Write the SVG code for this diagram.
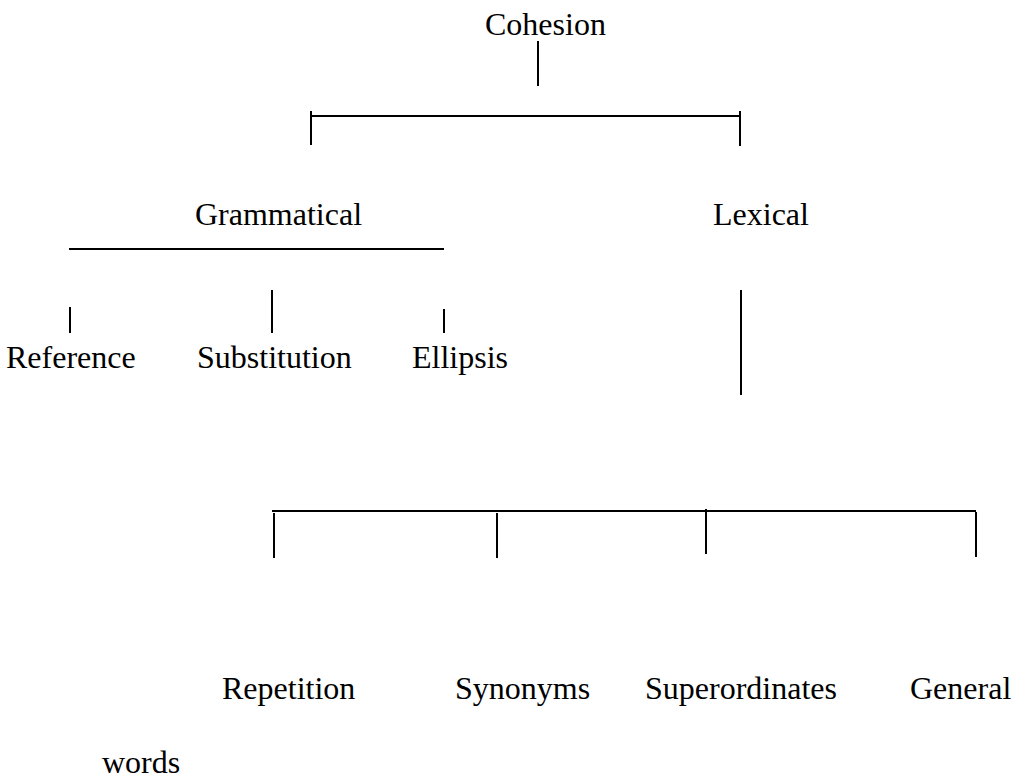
<svg xmlns="http://www.w3.org/2000/svg" width="1015" height="778" viewBox="0 0 1015 778">
<style>
text{font-family:'Liberation Serif','Times New Roman',Tinos,'DejaVu Serif',serif;font-size:32px;fill:#000}
.c line{stroke:#000;stroke-width:2}
</style>
<rect width="1015" height="778" fill="#fff"/>
<g class="c" id="connectors">
<line x1="538" y1="41" x2="538" y2="86"/>
<line x1="311" y1="116" x2="740" y2="116"/>
<line x1="311" y1="111" x2="311" y2="145"/>
<line x1="740" y1="111" x2="740" y2="146"/>
<line x1="69" y1="249" x2="444" y2="249"/>
<line x1="70" y1="307" x2="70" y2="333"/>
<line x1="272" y1="290" x2="272" y2="333"/>
<line x1="444" y1="309" x2="444" y2="333"/>
<line x1="741" y1="290" x2="741" y2="395"/>
<line x1="272" y1="511" x2="976" y2="511"/>
<line x1="274" y1="513" x2="274" y2="558"/>
<line x1="497" y1="513" x2="497" y2="558"/>
<line x1="706" y1="509" x2="706" y2="554"/>
<line x1="976" y1="512" x2="976" y2="557"/>
</g>
<g id="cohesion"><text x="485" y="35" font-family="Liberation Serif, serif">Cohesion</text></g>
<g id="grammatical"><text x="195" y="225" font-family="Liberation Serif, serif">Grammatical</text></g>
<g id="lexical"><text x="713" y="225" font-family="Liberation Serif, serif">Lexical</text></g>
<g id="reference"><text x="6" y="368" font-family="Liberation Serif, serif">Reference</text></g>
<g id="substitution"><text x="197" y="368" font-family="Liberation Serif, serif">Substitution</text></g>
<g id="ellipsis"><text x="412" y="368" font-family="Liberation Serif, serif">Ellipsis</text></g>
<g id="repetition"><text x="222" y="699" font-family="Liberation Serif, serif">Repetition</text></g>
<g id="synonyms"><text x="455" y="699" font-family="Liberation Serif, serif">Synonyms</text></g>
<g id="superordinates"><text x="645" y="699" font-family="Liberation Serif, serif">Superordinates</text></g>
<g id="general"><text x="910" y="699" font-family="Liberation Serif, serif">General</text></g>
<g id="words"><text x="102" y="773" font-family="Liberation Serif, serif">words</text></g>
</svg>
